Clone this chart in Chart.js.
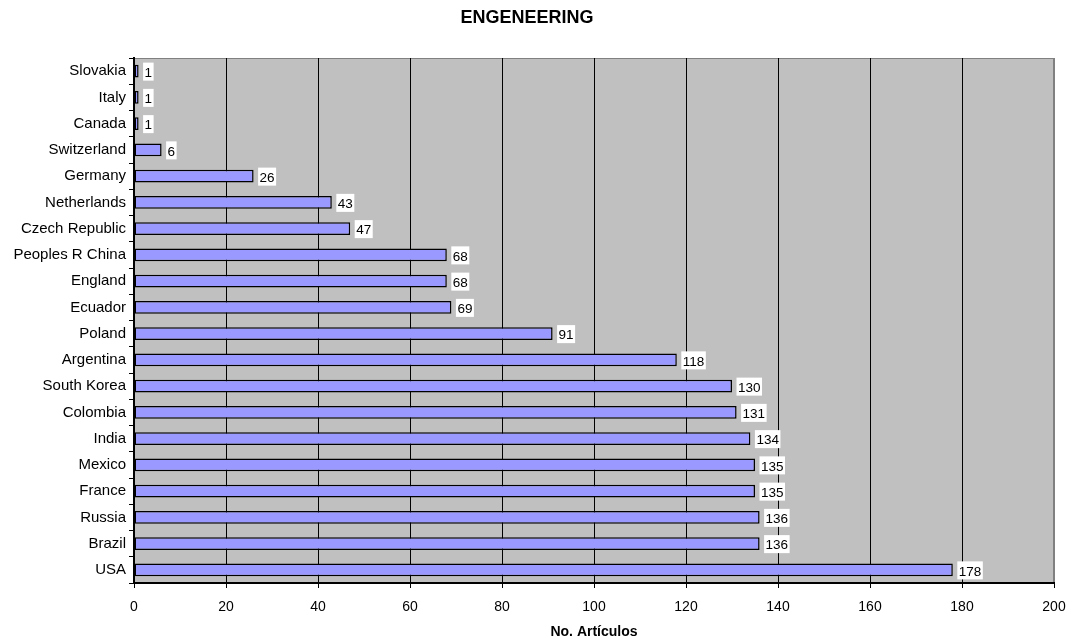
<!DOCTYPE html>
<html>
<head>
<meta charset="utf-8">
<title>ENGENEERING</title>
<script src="https://cdn.jsdelivr.net/npm/chart.js@4.4.1/dist/chart.umd.min.js"></script>
<style>
  html, body { margin: 0; background: #fff; overflow: hidden; }
  canvas { display: block; }
</style>
</head>
<body>
<canvas id="chart" width="1069" height="642"></canvas>
<script>
const countries = ['Slovakia', 'Italy', 'Canada', 'Switzerland', 'Germany', 'Netherlands',
  'Czech Republic', 'Peoples R China', 'England', 'Ecuador', 'Poland', 'Argentina',
  'South Korea', 'Colombia', 'India', 'Mexico', 'France', 'Russia', 'Brazil', 'USA']
const articles = [1, 1, 1, 6, 26, 43, 47, 68, 68, 69, 91, 118, 130, 131, 134, 135, 135, 136, 136, 178]
const xTicks = [0, 20, 40, 60, 80, 100, 120, 140, 160, 180, 200]

const FONT = '"Liberation Sans", Arial, sans-serif'

// gray plot background with a thin darker frame
const plotBackground = {
  id: 'plotBackground',
  beforeDraw (chart) {
    const {ctx, chartArea: a} = chart
    ctx.save()
    ctx.fillStyle = '#C0C0C0'
    ctx.fillRect(a.left, a.top, a.right - a.left, a.bottom - a.top)
    ctx.strokeStyle = '#808080'
    ctx.lineWidth = 1
    ctx.strokeRect(a.left + 0.5, a.top + 0.5, a.right - a.left - 1, a.bottom - a.top - 1)
    ctx.restore()
  }
}

// white boxes with the value, right of each bar
const valueLabels = {
  id: 'valueLabels',
  afterDatasetsDraw (chart) {
    const {ctx} = chart
    const meta = chart.getDatasetMeta(0)
    ctx.save()
    ctx.font = '13.5px ' + FONT
    ctx.textBaseline = 'middle'
    meta.data.forEach((bar, i) => {
      const txt = String(chart.data.datasets[0].data[i])
      const w = ctx.measureText(txt).width
      const x = bar.x + 4.5
      ctx.fillStyle = '#fff'
      ctx.fillRect(x, bar.y - 8.5, w + 3, 18)
      ctx.fillStyle = '#000'
      ctx.fillText(txt, x + 1.5, bar.y + 2)
    })
    ctx.restore()
  }
}

new Chart(document.getElementById('chart'), {
  type: 'bar',
  data: {
    labels: countries,
    datasets: [{
      data: articles,
      backgroundColor: '#9999FF',
      borderColor: '#000',
      borderWidth: 1.5,
      borderSkipped: false,
      barPercentage: 0.48,
      categoryPercentage: 1
    }]
  },
  options: {
    indexAxis: 'y',
    responsive: false,
    animation: false,
    layout: {padding: {left: 0, right: 15, top: 0, bottom: 0}},
    plugins: {
      legend: {display: false},
      tooltip: {enabled: false},
      title: {
        display: true,
        text: 'ENGENEERING',
        color: '#000',
        font: {family: FONT, size: 18, weight: 'bold'},
        padding: {top: 7, bottom: 29.4}
      }
    },
    scales: {
      x: {
        min: 0,
        max: 200,
        afterBuildTicks (scale) {
          scale.ticks = xTicks.map(v => ({value: v}))
        },
        afterFit (scale) {
          scale.height = 59
          scale.paddingLeft = 0
          scale.paddingRight = 0
        },
        grid: {
          color: ctx => (ctx.tick && ctx.tick.value === 200) ? '#808080' : '#000',
          tickColor: '#000',
          lineWidth: 1,
          tickLength: 5
        },
        border: {color: '#000', width: 2},
        ticks: {
          color: '#000',
          padding: 10.6,
          maxRotation: 0,
          font: {family: FONT, size: 14}
        },
        title: {
          display: true,
          text: 'No. Artículos',
          color: '#000',
          font: {family: FONT, size: 14, weight: 'bold'},
          padding: {top: 0, bottom: 1.6}
        }
      },
      y: {
        afterFit (scale) { scale.width = 134 },
        grid: {
          drawOnChartArea: false,
          color: '#000',
          tickLength: 5,
          offset: true
        },
        border: {color: '#000', width: 2},
        ticks: {
          color: '#000',
          padding: 3,
          autoSkip: false,
          font: {family: FONT, size: 15}
        }
      }
    }
  },
  plugins: [plotBackground, valueLabels]
})
</script>
</body>
</html>
